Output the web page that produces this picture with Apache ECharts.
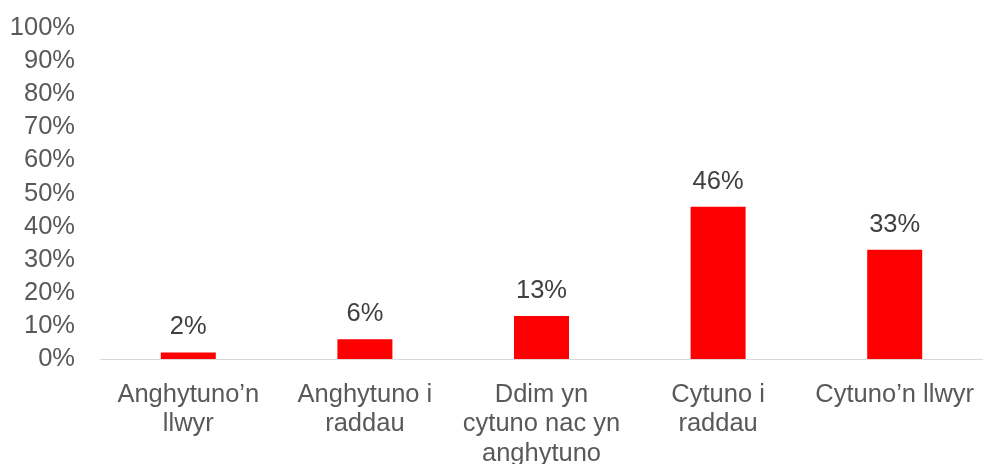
<!DOCTYPE html>
<html><head><meta charset="utf-8">
<script src="https://cdn.jsdelivr.net/npm/echarts@6/dist/echarts.min.js"></script>
<style>html,body{margin:0;padding:0;background:#fff}#c{width:983px;height:464px}</style>
</head><body><div id="c"></div>
<script>
const categories = ["Anghytuno’n\nllwyr", "Anghytuno i\nraddau", "Ddim yn\ncytuno nac yn\nanghytuno", "Cytuno i\nraddau", "Cytuno’n llwyr"];
const values = [2, 6, 13, 46, 33];
const chart = echarts.init(document.getElementById('c'));
const FONT = 'Liberation Sans, Arial, sans-serif';
chart.setOption({
  animation: false,
  grid: {left: 100, right: 0, top: 28, bottom: 105, containLabel: false, outerBoundsMode: 'none'},
  xAxis: {
    type: 'category', data: categories,
    axisLine: {lineStyle: {color: '#d9d9d9', width: 1}},
    axisTick: {show: false},
    axisLabel: {color: '#595959', fontSize: 25.5, fontFamily: FONT, lineHeight: 29.5, margin: 21, interval: 0}
  },
  yAxis: {
    type: 'value', min: 0, max: 100, interval: 10,
    splitLine: {show: false},
    axisLine: {show: false}, axisTick: {show: false},
    axisLabel: {color: '#595959', fontSize: 25.5, fontFamily: FONT, formatter: '{value}%', margin: 25}
  },
  series: [{
    type: 'bar', data: values, barWidth: 55,
    itemStyle: {color: '#ff0000'},
    label: {show: true, position: 'top', formatter: '{c}%', color: '#404040', fontSize: 25.5, fontFamily: FONT, distance: 12}
  }]
});
</script></body></html>
